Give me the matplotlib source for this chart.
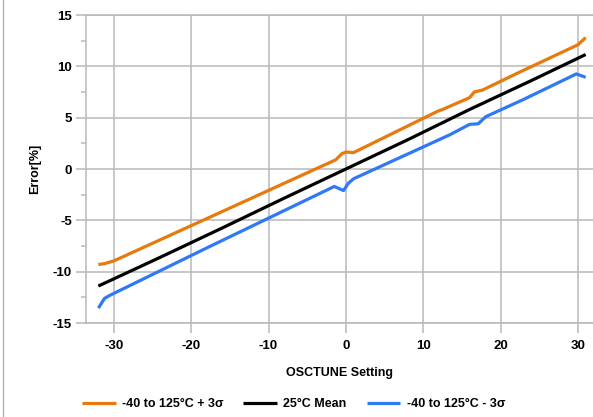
import matplotlib

matplotlib.use("Agg")

import matplotlib.pyplot as plt
from matplotlib.lines import Line2D
from matplotlib.ticker import MultipleLocator

plt.rcParams["font.family"] = ["Liberation Sans", "DejaVu Sans"]
plt.rcParams["font.weight"] = "bold"
plt.rcParams["axes.unicode_minus"] = False

# values (x = OSCTUNE setting, y = error %)
upper_x = [-32, -31.2, -30, -16.5, -1.3, -0.5, 0, 1, 11.8, 12.5, 16, 16.6, 17.7, 22.5, 23.5, 30, 31]
upper_y = [-9.3, -9.22, -8.95, -4.32, 0.9, 1.5, 1.65, 1.6, 5.6, 5.8, 6.95, 7.5, 7.7, 9.45, 9.8, 12.1, 12.8]

mean_x = [-32, -24, -16, -8, 0, 8, 16, 24, 31]
mean_y = [-11.4, -8.6, -5.75, -2.85, 0.0, 2.85, 5.8, 8.62, 11.15]

lower_x = [-32, -31.2, -30.5, -17.8, -1.5, -0.3, 0.3, 1, 13.4, 16, 17.1, 18.1, 22.9, 29.8, 31]
lower_y = [-13.55, -12.6, -12.3, -7.62, -1.7, -2.1, -1.4, -0.95, 3.32, 4.35, 4.4, 5.1, 6.75, 9.26, 8.93]

labels = ["-40 to 125°C + 3σ", "25°C Mean", "-40 to 125°C - 3σ"]
colors = ["#e8790c", "#000000", "#2f78f7"]

x_ticks = [-30, -20, -10, 0, 10, 20, 30]
y_ticks = [-15, -10, -5, 0, 5, 10, 15]

grid_color = "#b8b8b8"

fig = plt.figure(figsize=(5.93, 4.17), dpi=100)
ax = fig.add_axes([86 / 593, 1 - 323 / 417, 1 - 86 / 593, (323 - 15) / 417])

for xs, ys, lab, col in zip([upper_x, mean_x, lower_x], [upper_y, mean_y, lower_y], labels, colors):
    ax.plot(xs, ys, color=col, linewidth=2.3, label=lab, solid_capstyle="butt", zorder=3)

ax.set_xlim(-33.6, 31.95)
ax.set_ylim(-15, 15)
ax.set_xticks(x_ticks, [str(v) for v in x_ticks], fontweight="bold", fontsize=9.5)
ax.set_yticks(y_ticks, [str(v) for v in y_ticks], fontweight="bold", fontsize=9.5)
ax.yaxis.set_minor_locator(MultipleLocator(2.5))
ax.grid(True, which="major", color=grid_color, linewidth=1.1)
ax.set_axisbelow(True)

for side in ("left", "bottom", "top"):
    ax.spines[side].set_color(grid_color)
    ax.spines[side].set_linewidth(1.1)
ax.spines["right"].set_visible(False)

ax.tick_params(axis="both", which="major", length=7.2, width=1.1, color=grid_color, pad=3)
ax.tick_params(axis="x", which="major", pad=5)
ax.tick_params(axis="y", which="minor", length=3.6, width=1.1, color=grid_color)

ax.set_xlabel("OSCTUNE Setting", fontsize=9, fontweight="bold", labelpad=11)
ax.set_ylabel("Error[%]", fontsize=9, fontweight="bold", labelpad=8)

fig.legend(loc="center", bbox_to_anchor=(0.495, 0.031), ncol=3, frameon=False,
           handlelength=2.7, handletextpad=0.5, columnspacing=1.6,
           prop={"weight": "bold", "size": 9})

fig.add_artist(Line2D([2.5 / 593, 2.5 / 593], [0, 1], color="#b0b0b0", linewidth=1.0))

fig.savefig("out.png", dpi=100, facecolor="white")
